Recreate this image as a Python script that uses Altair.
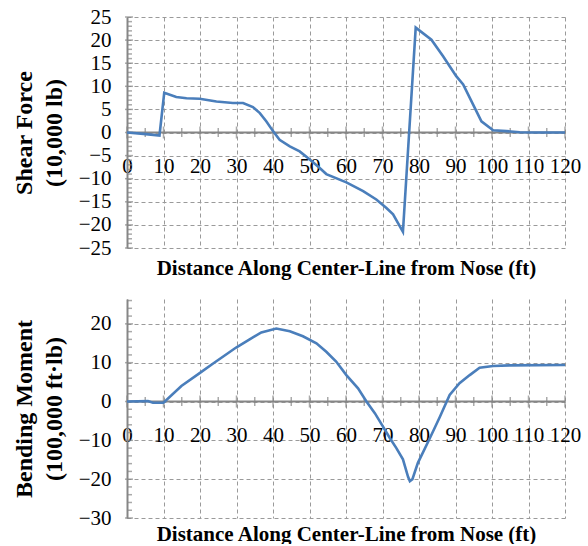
import altair as alt
import pandas as pd

# ---- data ----
shear_x = [0, 4.5, 8.9, 10.2, 13.5, 16.3, 19.9, 24.5, 29.0, 31.8, 34.5, 36.4, 38.2,
           40.0, 41.8, 44.6, 47.3, 50.0, 52.8, 54.6, 60.1, 64.7, 68.3, 71.0, 72.9, 75.6,
           79.1, 83.4, 86.6, 90.2, 92.1, 94.8, 97.1, 100.3, 104.0, 107.6, 112.0, 120.0]
shear_v = [0, -0.3, -0.65, 8.6, 7.7, 7.4, 7.3, 6.7, 6.4, 6.4, 5.5, 4.2, 2.4,
           0.3, -1.6, -3.0, -4.1, -5.8, -7.7, -9.0, -10.8, -12.7, -14.5, -16.3, -17.7, -21.5,
           22.7, 20.1, 16.5, 12.2, 10.4, 6.1, 2.4, 0.5, 0.3, 0.07, 0.0, 0.0]

moment_x = [0, 5.75, 7.1, 10.0, 14.9, 19.9, 23.6, 29.9, 33.6, 36.8, 40.9, 44.6, 48.2,
            51.9, 54.6, 57.3, 60.1, 63.3, 65.6, 67.9, 70.1, 72.0, 73.8, 75.6, 77.0, 77.5,
            78.2, 79.7, 82.9, 85.7, 88.4, 91.1, 93.9, 96.6, 100.3, 104.8, 120.0]
moment_m = [0, 0.1, -0.3, -0.3, 4.0, 7.3, 9.8, 13.9, 16.0, 17.8, 18.8, 18.1, 16.8,
            15.0, 12.8, 10.3, 6.8, 3.4, 0.0, -3.0, -6.4, -9.4, -12.0, -14.9, -19.4, -20.5,
            -20.0, -15.8, -9.6, -4.0, 1.7, 4.7, 6.8, 8.7, 9.15, 9.3, 9.4]

x_major = [0, 10, 20, 30, 40, 50, 60, 70, 80, 90, 100, 110, 120]
x_minor = [5, 15, 25, 35, 45, 55, 65, 75, 85, 95, 105, 115]

shear_major = [-25, -20, -15, -10, -5, 0, 5, 10, 15, 20, 25]
shear_minor = [v for v in range(-25, 26) if v % 5 != 0]
moment_major = [-30, -20, -10, 0, 10, 20]
moment_minor = [v for v in range(-30, 27, 2) if v % 10 != 0]

X_TITLE = "Distance Along Center-Line from Nose (ft)"

FONT = "Liberation Serif"
BLUE = "#4A7EBB"
GRID = "#9A9A9A"
AXIS = "#868686"


def panel(xs, ys, domain, ymajor, yminor, ytitle, height, zero_from_bottom, title_dy, label_pad):
    xscale = alt.Scale(domain=[0, 120], nice=False, zero=False)
    yscale = alt.Scale(domain=domain, nice=False, zero=False)
    xaxis = alt.Axis(
        values=x_major, grid=True, gridDash=[4, 3], gridColor=GRID, gridWidth=1,
        domain=False, ticks=False, labelFont=FONT, labelFontSize=21, labelColor="black",
        labelFlush=False, labelOverlap=False, labelBound=False, labelPadding=label_pad,
        offset=-zero_from_bottom, title=X_TITLE, titleFont=FONT, titleFontSize=21,
        titleFontWeight="bold", titleColor="black", titleY=title_dy,
        titleBaseline="middle")
    yaxis = alt.Axis(
        values=ymajor, grid=True, gridDash=[4, 3], gridColor=GRID, gridWidth=1,
        domain=True, domainColor=AXIS, domainWidth=2, ticks=False,
        labelFont=FONT, labelFontSize=21, labelColor="black", labelFlush=False,
        labelOverlap=False, labelBound=False, labelPadding=16, title=ytitle, titleFont=FONT,
        titleFontSize=24, titleFontWeight="bold", titleColor="black",
        titleLineHeight=30, titlePadding=12)

    def X(f="x"):
        return alt.X(f + ":Q", scale=xscale, axis=xaxis)

    def Y(f="y"):
        return alt.Y(f + ":Q", scale=yscale, axis=yaxis)

    df = pd.DataFrame({"x": xs, "y": ys})
    line = alt.Chart(df).mark_line(color=BLUE, strokeWidth=2.6).encode(x=X(), y=Y())

    zero = alt.Chart(pd.DataFrame({"y": [0]})).mark_rule(color=AXIS, strokeWidth=2).encode(
        y=Y())

    xt_major = alt.Chart(pd.DataFrame({"x": x_major, "y": [0] * len(x_major)})).mark_tick(
        orient="vertical", size=12, thickness=1.5, color=AXIS).encode(x=X(), y=Y())
    xt_minor = alt.Chart(pd.DataFrame({"x": x_minor, "y": [0] * len(x_minor)})).mark_tick(
        orient="vertical", size=9, thickness=1.5, color=AXIS).encode(x=X(), y=Y())
    yt_major = alt.Chart(pd.DataFrame({"y": ymajor, "x": [0] * len(ymajor)})).mark_tick(
        orient="horizontal", size=8, thickness=1.5, color=AXIS, xOffset=2).encode(x=X(), y=Y())
    yt_minor = alt.Chart(pd.DataFrame({"y": yminor, "x": [0] * len(yminor)})).mark_tick(
        orient="horizontal", size=5, thickness=1.5, color=AXIS, xOffset=2.5).encode(x=X(), y=Y())

    return alt.layer(zero, xt_major, xt_minor, yt_major, yt_minor, line).properties(
        width=438, height=height)


top = panel(shear_x, shear_v, [-25, 25], shear_major, shear_minor,
            ["Shear Force", "(10,000 lb)"], 231, 115, 135, 22)
bottom = panel(moment_x, moment_m, [-30, 26.4], moment_major, moment_minor,
               ["Bending Moment", "(100,000 ft\u00b7lb)"], 219, 116, 132, 22)

chart = alt.vconcat(top, bottom, spacing=21).properties(
    padding={"left": 12, "top": 6, "right": 5, "bottom": 0}
).configure(
    background="white"
).configure_view(
    stroke=None
)

chart.save("out.html", embed_options={"renderer": "svg", "actions": False})
